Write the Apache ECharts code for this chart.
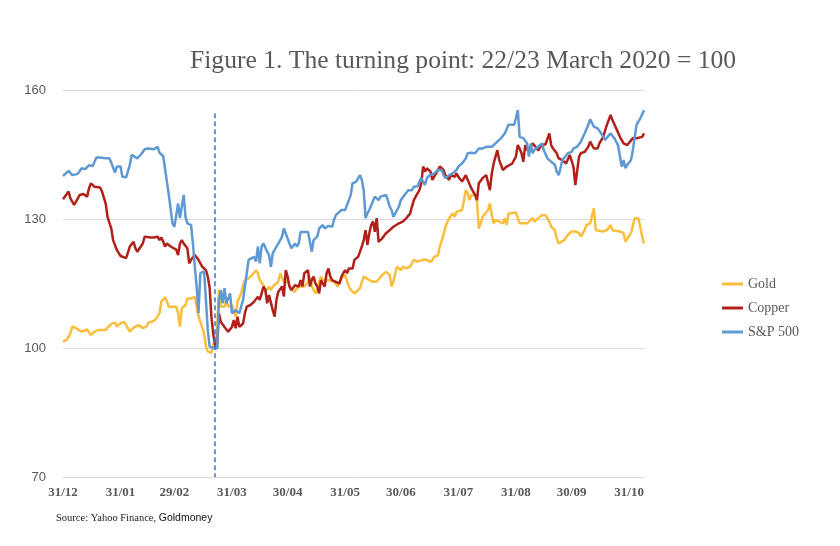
<!DOCTYPE html>
<html><head><meta charset="utf-8">
<script src="https://cdn.jsdelivr.net/npm/echarts@6/dist/echarts.min.js"></script>
<style>html,body{margin:0;padding:0;background:#fff}#c{width:840px;height:546px}</style>
</head><body><div id="c"></div>
<script>
// x = days since 31/12/2019
const monthEndDays = [0,31,60,91,121,152,182,213,244,274,305];
const monthEndLabels = ['31/12','31/01','29/02','31/03','30/04','31/05','30/06','31/07','31/08','30/09','31/10'];
const turningDay = 82;

const goldDays = [0,2,4,5,7,8,10,11,13,15,17,19,20,23,24,26,28,29,31,33,34,36,37,39,41,43,45,46,48,50,52,53,55,56,57,59,61,62,63,64,66,67,69,71,72,73,74,75,76,77,78,80,81,82,83,84,85,86,87,88,89,90,91,92,93,94,96,97,98,99,100,101,102,103,104,105,106,107,108,109,110,111,112,113,114,116,117,118,119,121,122,123,124,125,126,127,128,130,132,133,134,135,136,137,138,139,140,141,143,144,146,148,149,150,152,153,154,155,157,158,160,161,162,163,165,167,169,170,172,174,175,176,177,178,179,180,182,183,185,187,188,189,190,191,192,194,196,197,198,199,200,202,203,205,206,208,210,211,212,213,215,216,217,218,219,220,222,223,224,225,226,227,229,230,231,232,233,235,237,238,239,240,241,244,245,246,248,250,251,253,254,256,258,259,260,262,263,265,266,267,268,270,272,273,274,276,277,278,279,281,282,283,284,285,286,287,288,291,293,294,295,296,297,300,302,303,304,306,307,308,310,311,312,313];
const goldValues = [101.5,101.9,103.4,105.0,104.6,105.0,103.8,104.2,104.3,103.0,103.8,104.2,104.0,104.2,104.6,105.6,105.9,105.0,105.7,106.1,106.5,103.8,104.3,105.0,105.3,104.6,105.0,105.9,106.1,106.7,108.1,110.8,111.8,110.8,109.6,109.6,109.6,108.1,105.0,109.2,110.0,111.5,111.5,111.9,111.5,107.3,106.1,106.5,103.4,100.3,99.2,98.8,101.1,99.9,104.2,113.5,109.6,109.9,109.6,111.2,109.6,109.6,110.0,110.4,107.3,110.8,112.7,114.6,115.8,115.8,116.2,115.8,117.0,116.6,118.1,117.4,115.8,115.8,114.6,113.1,113.1,114.3,113.5,114.3,114.3,115.4,117.4,117.7,115.4,115.4,114.6,113.5,113.9,113.1,113.9,114.3,114.3,114.3,115.4,116.6,114.3,113.5,112.7,113.5,115.4,116.6,115.8,115.4,115.8,115.4,115.4,114.3,115.4,116.2,117.0,117.4,114.3,113.5,112.7,112.3,113.9,115.4,116.6,116.2,115.8,115.4,115.4,115.0,117.0,117.7,118.1,117.0,114.3,115.4,117.4,118.9,118.1,118.9,118.5,118.9,119.7,120.5,120.8,120.1,120.1,120.5,120.5,120.6,120.0,120.5,121.2,121.6,123.6,126.3,128.2,130.2,131.3,130.5,131.7,132.1,132.1,134.4,136.7,136.0,134.4,135.6,135.6,134.4,127.8,129.0,130.5,130.5,132.1,133.6,130.9,129.0,129.8,129.4,129.0,130.2,128.6,131.3,131.5,131.5,131.3,129.0,129.0,129.0,128.6,130.2,129.4,130.2,130.9,130.5,130.9,129.4,128.2,127.4,125.5,124.3,124.3,125.1,126.3,125.9,127.1,127.1,127.4,126.7,125.9,127.4,128.6,129.0,129.0,129.4,132.5,127.4,127.1,127.1,127.4,127.8,128.6,127.4,127.1,127.1,126.7,124.7,125.5,126.7,127.1,130.2,130.2,128.2,125.9,124.3];

const copperDays = [0,3,4,6,8,9,10,11,13,14,15,17,18,20,21,23,24,26,27,29,31,32,34,35,36,38,39,40,41,43,44,45,47,49,51,52,53,54,55,56,58,59,61,62,63,64,65,66,67,68,69,70,71,72,73,75,77,78,79,80,81,82,83,84,85,87,89,91,92,93,94,95,96,97,98,99,100,101,103,104,105,106,107,108,109,110,111,112,113,114,115,116,117,118,119,120,121,122,123,125,126,127,128,129,130,131,132,133,134,135,136,137,138,139,140,141,142,143,144,145,146,147,148,149,150,151,152,153,154,156,157,159,160,161,162,163,164,165,166,167,168,169,170,172,174,176,178,179,181,183,185,187,188,189,190,191,192,193,194,195,196,197,198,199,200,201,202,203,204,205,206,208,209,210,211,212,213,214,215,217,218,219,220,222,223,224,226,228,230,231,232,233,234,235,237,239,240,242,244,245,246,247,248,249,250,252,253,256,258,259,260,261,262,263,264,266,267,269,271,272,273,274,275,276,278,279,281,283,284,286,288,289,291,293,295,296,298,300,302,304,305,307,309,310,312,313];
const copperValues = [134.6,136.4,134.8,133.3,134.8,135.6,135.2,135.8,135.2,137.1,138.3,137.5,137.1,137.3,136.4,133.6,130.5,127.8,125.1,122.8,121.4,121.1,120.9,121.2,123.6,124.7,123.2,122.4,122.8,124.3,125.9,125.7,125.7,125.7,125.9,125.1,125.7,124.7,123.6,124.3,123.6,123.8,122.9,121.6,124.3,125.1,124.3,124.7,123.2,119.7,120.5,120.5,121.6,122.0,120.5,118.9,118.1,116.6,114.0,107.0,103.0,100.5,100.0,108.0,106.1,104.9,103.8,104.9,106.5,104.6,107.3,104.9,104.9,105.7,108.1,109.6,109.6,110.0,110.8,111.2,111.9,111.2,112.7,114.3,113.5,110.4,112.3,112.7,108.8,107.3,111.2,113.1,113.5,114.3,112.0,118.1,116.6,114.3,113.5,114.6,115.0,114.3,115.8,114.3,117.4,117.0,118.1,114.3,115.8,116.6,115.0,114.3,112.7,115.8,115.0,114.3,117.4,118.5,116.6,115.8,115.8,115.4,115.8,115.0,116.6,117.4,118.1,117.4,118.5,118.5,120.5,121.2,122.4,123.6,125.1,127.4,124.0,126.7,128.6,129.4,127.0,130.2,124.7,125.5,126.7,127.4,128.2,128.6,129.0,129.4,130.2,131.3,132.9,134.4,135.2,135.6,136.7,138.3,142.2,141.0,141.8,141.4,141.0,139.1,139.5,140.6,141.0,142.2,142.6,141.4,140.2,139.1,140.2,140.2,139.8,140.6,139.8,139.5,138.7,140.2,139.1,139.5,137.1,135.6,134.4,138.3,139.5,140.2,136.7,140.6,142.9,144.5,146.0,143.7,141.4,142.2,142.2,142.9,144.5,147.2,146.4,145.3,143.3,147.2,146.0,146.8,147.6,146.0,147.2,147.6,147.4,147.6,149.9,147.2,146.4,145.3,144.1,143.7,142.9,143.3,144.9,144.5,142.2,137.9,144.5,145.3,145.6,146.8,148.0,146.4,146.4,147.6,149.1,151.9,154.2,153.0,151.1,149.1,147.6,147.2,147.6,148.8,148.8,149.1,149.1,149.9,150.7,151.9,152.1];

const spxDays = [0,3,5,6,8,10,12,14,16,18,20,23,25,26,28,29,31,32,34,36,37,38,40,42,44,46,49,51,52,54,55,57,58,59,60,61,62,63,65,66,67,69,70,71,72,73,74,76,77,78,79,81,83,84,85,86,87,88,90,91,93,95,97,98,99,100,101,103,104,105,106,107,108,109,110,111,112,113,114,115,116,117,118,119,120,121,122,123,124,125,126,127,128,130,132,133,134,135,136,137,138,139,140,141,142,143,145,146,147,148,150,152,153,154,155,156,158,159,160,161,162,163,164,165,166,168,169,170,171,172,174,175,176,177,178,179,181,182,184,186,187,188,189,190,191,192,193,195,196,197,198,200,202,203,204,205,206,208,210,211,212,213,215,217,218,220,222,223,224,226,228,231,232,233,234,236,238,240,241,243,244,245,246,248,249,250,251,252,253,254,256,258,259,261,263,265,266,267,268,269,270,272,274,275,277,279,281,283,284,286,288,290,292,293,295,297,299,300,301,302,303,304,306,307,308,309,310,311,313];
const spxValues = [140.0,141.2,140.2,140.6,140.5,141.8,141.6,142.5,142.3,144.3,144.3,144.1,144.1,143.1,140.8,142.2,142.2,139.8,139.7,142.6,144.9,145.0,144.1,145.0,146.2,146.4,146.2,146.8,145.4,144.6,144.5,135.6,135.2,129.0,128.2,128.4,133.6,130.2,135.6,130.5,129.0,128.6,124.3,118.9,114.3,108.1,117.4,117.8,111.2,104.2,100.3,100.0,99.9,111.2,113.5,110.4,113.9,110.4,112.7,108.1,108.8,108.1,111.2,114.3,117.4,120.5,120.6,121.2,120.1,123.6,119.7,123.6,124.3,124.5,122.4,121.6,118.9,122.0,122.0,123.6,123.6,125.1,125.9,127.8,127.4,125.5,124.3,123.2,122.8,124.3,123.6,124.3,127.0,127.0,127.0,124.7,122.4,125.1,125.1,125.9,127.8,127.4,128.6,127.8,128.2,128.4,128.2,129.8,130.9,131.3,132.1,132.1,132.5,134.4,135.6,138.3,138.7,138.3,140.2,139.1,136.7,130.2,131.3,132.1,132.5,135.2,134.8,134.4,135.2,134.8,135.6,134.4,132.9,132.1,130.5,131.3,132.9,134.4,135.6,136.7,137.1,136.7,137.5,137.1,137.6,138.7,139.5,137.9,139.5,140.0,140.2,140.6,141.4,141.8,141.4,140.2,139.5,140.2,140.6,140.2,141.4,142.2,142.9,144.1,145.3,145.4,145.3,145.6,146.4,146.4,146.8,146.8,146.5,147.6,147.6,148.8,149.9,151.9,152.3,151.9,153.4,155.3,149.1,148.8,148.8,147.6,144.5,147.6,145.3,146.1,146.8,147.6,146.0,144.1,143.3,142.6,141.0,140.2,141.8,143.7,144.1,145.3,145.6,146.4,146.8,148.0,149.9,151.9,153.2,151.5,151.1,149.9,148.4,148.8,149.9,148.8,147.2,146.8,142.2,143.7,141.8,142.6,143.7,146.0,149.1,151.9,152.3,153.4,155.3];

const pairs = (d, v) => d.map((x, i) => [x, v[i]]);
const grey = '#595959';
const serif = '"Liberation Serif", "DejaVu Serif", serif';

const chart = echarts.init(document.getElementById('c'), null, {renderer: 'canvas'});
chart.setOption({
  animation: false,
  backgroundColor: '#ffffff',
  title: {
    text: 'Figure 1. The turning point: 22/23 March 2020 = 100',
    left: 185, top: 43,
    textStyle: {fontFamily: serif, fontSize: 25.6, fontWeight: 'normal', color: grey}
  },
  legend: {
    orient: 'vertical', left: 717, top: 272,
    icon: 'rect', itemWidth: 21, itemHeight: 3, itemGap: 10,
    textStyle: {fontFamily: serif, fontSize: 14, color: grey},
    data: ['Gold', 'Copper', 'S&P 500']
  },
  grid: {left: 63, right: 196, top: 90, bottom: 69, containLabel: false},
  xAxis: {
    type: 'value', min: 0, max: 313,
    axisLine: {show: false}, axisTick: {show: false}, splitLine: {show: false},
    axisLabel: {
      customValues: monthEndDays,
      formatter: v => monthEndLabels[monthEndDays.indexOf(v)] || '',
      fontFamily: serif, fontSize: 13, fontWeight: 'bold', color: grey, margin: 9
    }
  },
  yAxis: {
    type: 'value', min: 70, max: 160, interval: 30,
    axisLine: {show: false}, axisTick: {show: false},
    splitLine: {lineStyle: {color: '#d9d9d9', width: 1}},
    axisLabel: {fontFamily: '"Liberation Sans", Arial, sans-serif', fontSize: 13, color: grey, margin: 17}
  },
  series: [
    {name: 'Gold', type: 'line', data: pairs(goldDays, goldValues), showSymbol: false,
     lineStyle: {color: '#F9BE3B', width: 2.5}, itemStyle: {color: '#F9BE3B'}},
    {name: 'Copper', type: 'line', data: pairs(copperDays, copperValues), showSymbol: false,
     lineStyle: {color: '#B0211B', width: 2.5}, itemStyle: {color: '#B0211B'}},
    {name: 'S&P 500', type: 'line', data: pairs(spxDays, spxValues), showSymbol: false,
     lineStyle: {color: '#5F99D3', width: 2.5}, itemStyle: {color: '#5F99D3'},
     markLine: {
       silent: true, symbol: ['none', 'none'], label: {show: false},
       lineStyle: {color: '#4472C4', type: [5, 3], width: 1.5},
       data: [[{coord: [turningDay, 154.6]}, {coord: [turningDay, 70]}]]
     }}
  ],
  graphic: [{
    type: 'text', left: 56, top: 513,
    style: {
      text: '{a|Source: Yahoo Finance, }{b|Goldmoney}',
      rich: {
        a: {fontFamily: serif, fontSize: 10.5, fill: '#222'},
        b: {fontFamily: '"Liberation Sans", Arial, sans-serif', fontSize: 10.5, fill: '#111'}
      }
    }
  }]
});
</script></body></html>
